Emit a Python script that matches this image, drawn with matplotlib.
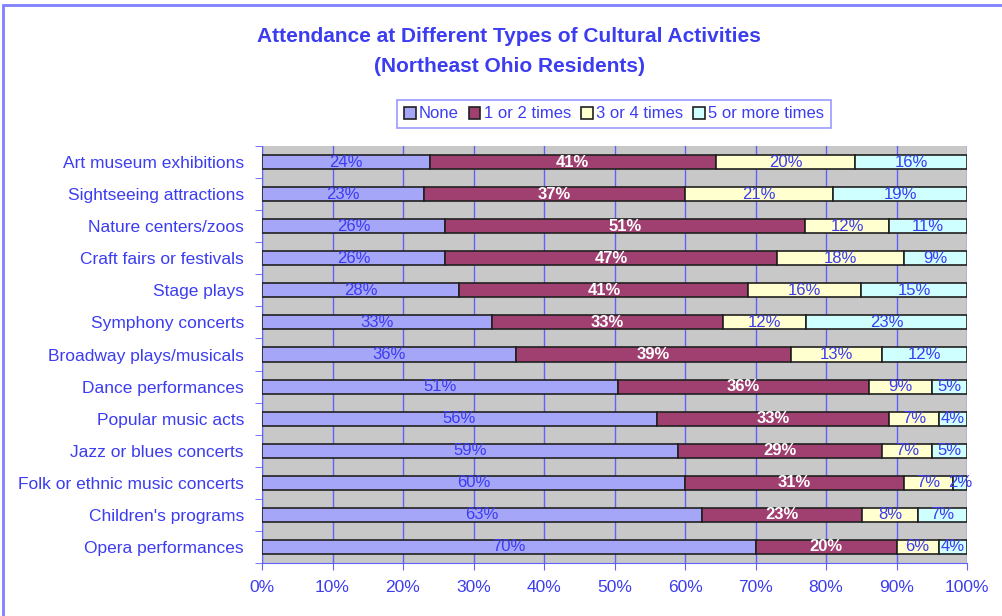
import matplotlib.pyplot as plt
import numpy as np
from matplotlib.patches import Rectangle

plt.rcParams['font.family'] = ['Liberation Sans', 'DejaVu Sans']

activities = ['Art museum exhibitions', 'Sightseeing attractions', 'Nature centers/zoos',
              'Craft fairs or festivals', 'Stage plays', 'Symphony concerts',
              'Broadway plays/musicals', 'Dance performances', 'Popular music acts',
              'Jazz or blues concerts', 'Folk or ethnic music concerts',
              "Children's programs", 'Opera performances']
series = ['None', '1 or 2 times', '3 or 4 times', '5 or more times']
none = [24, 23, 26, 26, 28, 33, 36, 51, 56, 59, 60, 63, 70]
once_twice = [41, 37, 51, 47, 41, 33, 39, 36, 33, 29, 31, 23, 20]
three_four = [20, 21, 12, 18, 16, 12, 13, 9, 7, 7, 7, 8, 6]
five_plus = [16, 19, 11, 9, 15, 23, 12, 5, 4, 5, 2, 7, 4]

colors = ['#a6a6f8', '#a04070', '#ffffd0', '#d0ffff']
blue = '#3c3cf0'

vals = np.array([none, once_twice, three_four, five_plus], dtype=float)
share = vals / vals.sum(axis=0) * 100  # 100% stacked

fig = plt.figure(figsize=(10.02, 6.16), dpi=100)
ax = fig.add_axes([262 / 1002, 1 - 563 / 616, 705 / 1002, 417 / 616])
ax.set_facecolor('#c8c8c8')

# border around the chart area
fig.patches.append(Rectangle((3 / 1002, -0.1), 1.2, 1.1 - 5 / 616, transform=fig.transFigure,
                             fill=False, edgecolor='#8080ff', linewidth=2))

y = np.arange(len(activities))
left = np.zeros(len(activities))
for i, name in enumerate(series):
    ax.barh(y, share[i], left=left, height=0.44, color=colors[i], edgecolor='#202020',
            linewidth=1.2, label=name, zorder=3)
    for j in range(len(activities)):
        cx = left[j] + share[i][j] / 2
        if i == 1:
            ax.text(cx, y[j], f'{int(vals[i][j])}%', ha='center', va='center', color='white',
                    fontsize=12, fontweight='bold', zorder=4)
        else:
            ax.text(cx, y[j], f'{int(vals[i][j])}%', ha='center', va='center', color=blue,
                    fontsize=12, zorder=4)
    left += share[i]

ax.set_xlim(0, 100)
ax.set_ylim(len(activities) - 0.5, -0.5)
ax.set_xticks(np.arange(0, 101, 10))
ax.set_xticklabels([f'{t}%' for t in range(0, 101, 10)])
ax.set_yticks(y)
ax.set_yticklabels(activities)
ax.set_yticks(np.arange(-0.5, len(activities)), minor=True)
ax.tick_params(axis='y', which='major', length=0, pad=13, labelsize=12.5, labelcolor=blue)
ax.tick_params(axis='y', which='minor', length=5, color='#6060ff', direction='out')
ax.tick_params(axis='x', length=5, color='#6060ff', labelsize=12.5, labelcolor=blue, pad=7)
ax.grid(axis='x', color='#6060ff', linewidth=1, zorder=1)
for side in ['top', 'right']:
    ax.spines[side].set_visible(False)
ax.spines['left'].set_color('#6060ff')
ax.spines['bottom'].set_color('#6060ff')

fig.text(509 / 1002, 1 - 37 / 616, 'Attendance at Different Types of Cultural Activities',
         ha='center', va='center', fontsize=15, fontweight='bold', color=blue)
fig.text(509 / 1002, 1 - 67 / 616, '(Northeast Ohio Residents)',
         ha='center', va='center', fontsize=15, fontweight='bold', color=blue)

leg = fig.legend(loc='center', bbox_to_anchor=(614 / 1002, 1 - 114 / 616), ncol=4,
                 fontsize=12, frameon=True, fancybox=False, handlelength=0.7, handleheight=0.7,
                 handletextpad=0.2, columnspacing=0.6, borderpad=0.4, labelcolor=blue)
leg.get_frame().set_edgecolor('#8080ff')
leg.get_frame().set_linewidth(1.2)

fig.savefig('out.png', dpi=100)
